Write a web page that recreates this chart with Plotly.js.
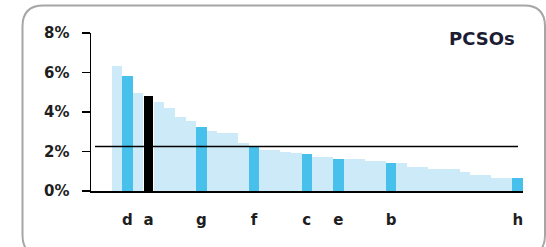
<!DOCTYPE html>
<html>
<head>
<meta charset="utf-8">
<script src="https://cdn.plot.ly/plotly-3.0.1.min.js"></script>
<style>html,body{margin:0;padding:0;background:#fff;}#chart{width:546px;height:247px;}</style>
</head>
<body>
<div id="chart"></div>
<script>
// Data
const labels = ['', 'd', '', 'a', '', '', '', '', 'g', '', '', '', '', 'f', '', '', '', '', 'c', '', '', 'e', '', '', '', '', 'b', '', '', '', '', '', '', '', '', '', '', '', 'h'];
const values = [6.34, 5.80, 4.95, 4.83, 4.52, 4.19, 3.76, 3.56, 3.25, 3.05, 2.92, 2.92, 2.41, 2.21, 2.10, 2.10, 1.98, 1.90, 1.87, 1.73, 1.73, 1.63, 1.60, 1.60, 1.53, 1.53, 1.42, 1.40, 1.22, 1.22, 1.10, 1.10, 1.10, 0.97, 0.83, 0.83, 0.68, 0.68, 0.68];
const highlightBlack = ['a'];
const averageLine = [2.25];
const yTicks = [0, 2, 4, 6, 8];
const chartTitle = 'PCSOs';

const LIGHT = '#cdeaf8', BLUE = '#47c0ec', BLACK = '#000000';
const xs = labels.map((_, i) => i);
const colors = labels.map(l => l === '' ? LIGHT : (highlightBlack.includes(l) ? BLACK : BLUE));
const widths = labels.map(l => highlightBlack.includes(l) ? 0.85 : 1.0);
const tickvals = xs.filter(i => labels[i] !== '');
const ticktext = tickvals.map(i => labels[i]);

const W = 546, H = 247;
const M = {l: 91, r: 23, t: 33, b: 56};
const pw = W - M.l - M.r, ph = H - M.t - M.b;
const px = x => (x - M.l) / pw;
const py = y => (H - M.b - y) / ph;

// rounded frame in paper coords
const fl = 22.5, fr = 545, ft = 5.5, fb = 256, rad = 21;
const framePath = [
  'M', px(fl), py(ft + rad),
  'Q', px(fl), py(ft), px(fl + rad), py(ft),
  'L', px(fr - rad), py(ft),
  'Q', px(fr), py(ft), px(fr), py(ft + rad),
  'L', px(fr), py(fb - rad),
  'Q', px(fr), py(fb), px(fr - rad), py(fb),
  'L', px(fl + rad), py(fb),
  'Q', px(fl), py(fb), px(fl), py(fb - rad),
  'Z'
].map((v, i) => typeof v === 'number' ? v.toFixed(5) : v).join(' ').replace(/ (-?\d)/g, ' $1');

const font = {family: 'DejaVu Sans, Verdana, sans-serif', color: '#1e1e1e'};

const data = [{
  type: 'bar',
  x: xs,
  y: values,
  width: widths,
  marker: {color: colors, line: {width: 0}},
  hoverinfo: 'skip'
}];

const layout = {
  width: W, height: H,
  margin: M,
  paper_bgcolor: '#ffffff',
  plot_bgcolor: 'rgba(0,0,0,0)',
  showlegend: false,
  bargap: 0,
  font: font,
  xaxis: {
    type: 'linear',
    range: [-2.46, 38.5],
    tickvals: tickvals,
    ticktext: ticktext,
    ticks: '',
    showgrid: false,
    zeroline: false,
    showline: true,
    linecolor: '#000',
    linewidth: 1.5,
    ticklabelstandoff: 14,
    tickfont: {family: font.family, size: 15, weight: 'bold', color: '#1e1e1e'},
    fixedrange: true
  },
  yaxis: {
    range: [0, 8],
    tickvals: yTicks,
    ticktext: yTicks.map(v => v + '%'),
    ticks: 'outside',
    ticklen: 8,
    tickwidth: 1.5,
    tickcolor: '#000',
    showgrid: false,
    zeroline: false,
    showline: true,
    linecolor: '#000',
    linewidth: 1.5,
    ticklabelstandoff: 9,
    tickfont: {family: font.family, size: 15, weight: 'bold', color: '#1e1e1e'},
    fixedrange: true
  },
  shapes: [
    {type: 'line', xref: 'paper', yref: 'y', x0: px(95), x1: px(518), y0: averageLine[0], y1: averageLine[0], line: {color: '#000', width: 1.5}},
    {type: 'path', xref: 'paper', yref: 'paper', path: framePath, line: {color: '#a6a6a6', width: 2}, fillcolor: 'rgba(0,0,0,0)', layer: 'below'}
  ],
  annotations: [{
    xref: 'paper', yref: 'paper', x: px(517), y: py(38.5), xanchor: 'right', yanchor: 'middle',
    text: chartTitle, showarrow: false,
    font: {family: font.family, size: 18, weight: 'bold', color: '#1c1c34'}
  }]
};

Plotly.newPlot('chart', data, layout, {displayModeBar: false, staticPlot: true});
</script>
</body>
</html>
